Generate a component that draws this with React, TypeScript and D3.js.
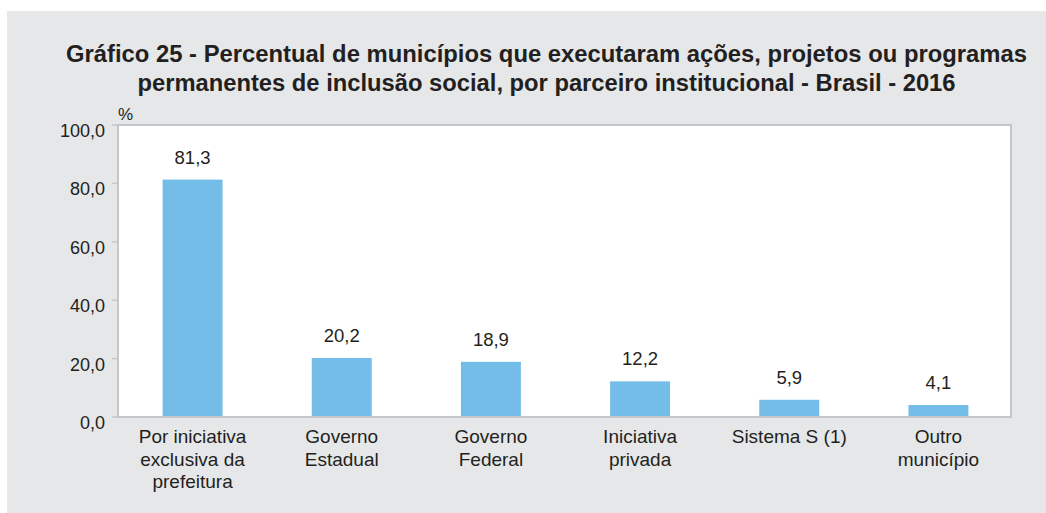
import React from "react";
import * as d3 from "d3";

const titleLines = [
  "Gráfico 25 - Percentual de municípios que executaram ações, projetos ou programas",
  "permanentes de inclusão social, por parceiro institucional - Brasil - 2016",
];
const categories = [
  "Por iniciativa exclusiva da prefeitura",
  "Governo Estadual",
  "Governo Federal",
  "Iniciativa privada",
  "Sistema S (1)",
  "Outro município",
];
const categoryLines = [
  ["Por iniciativa", "exclusiva da", "prefeitura"],
  ["Governo", "Estadual"],
  ["Governo", "Federal"],
  ["Iniciativa", "privada"],
  ["Sistema S (1)"],
  ["Outro", "município"],
];
const values = [81.3, 20.2, 18.9, 12.2, 5.9, 4.1];
const yTicks = [0, 20, 40, 60, 80, 100];
const unitLabel = "%";

const W = 1046;
const H = 513;
const plot = { left: 118, right: 1011, top: 125, bottom: 417 };
const BG = "#e6e7e9";
const BAR = "#74bde8";
const TEXT = "#231f20";
const AXIS = "#c5c6c8";
const FONT = "'Liberation Sans', Arial, Helvetica, sans-serif";

const fmt = (v: number) => v.toFixed(1).replace(".", ",");

export default function App() {
  const x = d3
    .scaleBand<string>()
    .domain(categories)
    .range([plot.left, plot.right + 2])
    .paddingInner(0.598)
    .paddingOuter(0.299);
  const y = d3.scaleLinear().domain([0, 100]).range([plot.bottom, plot.top]);

  return (
    <svg
      width={W}
      height={H}
      style={{ position: "absolute", left: 0, top: 0, display: "block" }}
      fontFamily={FONT}
    >
      <rect x={7} y={11} width={W - 7} height={H - 11} fill={BG} />
      {titleLines.map((t, i) => (
        <text
          key={i}
          x={546.5}
          y={62 + i * 28.5}
          textAnchor="middle"
          fontSize={23}
          fontWeight="bold"
          fill={TEXT}
          textLength={i === 0 ? 961 : 818}
          lengthAdjust="spacingAndGlyphs"
        >
          {t}
        </text>
      ))}
      <rect
        x={plot.left}
        y={plot.top}
        width={plot.right - plot.left}
        height={plot.bottom - plot.top}
        fill="#ffffff"
        stroke={AXIS}
        strokeWidth={2}
      />
      <text x={plot.left} y={120} fontSize={17} fill={TEXT}>
        {unitLabel}
      </text>
      {yTicks.map((t) => (
        <g key={t}>
          <line x1={plot.left - 6} x2={plot.left} y1={y(t)} y2={y(t)} stroke={AXIS} strokeWidth={1.5} />
          <text x={105} y={y(t) + 12} textAnchor="end" fontSize={18} fill={TEXT}>
            {fmt(t)}
          </text>
        </g>
      ))}
      {categories.map((c, i) => {
        const bx = x(c) as number;
        const bw = x.bandwidth();
        const cx = bx + bw / 2;
        return (
          <g key={c}>
            <rect x={bx} y={y(values[i])} width={bw} height={y(0) - y(values[i]) - 1} fill={BAR} />
            <text x={cx} y={y(values[i]) - 16} textAnchor="middle" fontSize={18.5} fill={TEXT}>
              {fmt(values[i])}
            </text>
            {categoryLines[i].map((l, j) => (
              <text key={j} x={cx} y={443 + j * 22.5} textAnchor="middle" fontSize={19} fill={TEXT}>
                {l}
              </text>
            ))}
          </g>
        );
      })}
    </svg>
  );
}
